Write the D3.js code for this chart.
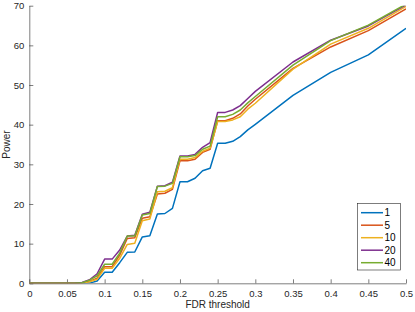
<!DOCTYPE html>
<html>
<head>
<meta charset="utf-8">
<script src="https://d3js.org/d3.v7.min.js"></script>
<style>
  body { margin: 0; background: #fff; }
  text { font-family: "Liberation Sans", Arial, sans-serif; }
</style>
</head>
<body>
<script>
// FDR thresholds (x values)
var fdr = [0, 0.01, 0.02, 0.03, 0.04, 0.05, 0.06, 0.07, 0.08, 0.09,
  0.1, 0.11, 0.12, 0.13, 0.14, 0.15, 0.16, 0.17, 0.18, 0.19,
  0.2, 0.21, 0.22, 0.23, 0.24, 0.25, 0.26, 0.27, 0.28, 0.29,
  0.3, 0.35, 0.4, 0.45, 0.5];

var power1 = [0, 0, 0, 0, 0, 0, 0, 0, 0.05, 0.6,
  2.8, 2.8, 5.2, 7.8, 7.9, 11.7, 12.0, 17.5, 17.6, 18.9,
  25.6, 25.6, 26.5, 28.4, 29.0, 35.3, 35.3, 35.8, 37.0, 38.7,
  40.1, 47.4, 53.2, 57.6, 64.3];
var power5 = [0, 0, 0, 0, 0, 0, 0, 0.1, 0.5, 1.3,
  4.2, 4.2, 7.1, 11.3, 11.5, 16.4, 16.8, 22.5, 22.7, 23.7,
  30.9, 30.9, 31.3, 33.0, 33.8, 41.0, 41.0, 41.6, 42.7, 44.7,
  46.4, 54.2, 59.6, 63.7, 69.2];
var power10 = [0, 0, 0, 0, 0, 0, 0, 0.1, 0.4, 1.0,
  3.8, 3.8, 6.3, 9.8, 10.1, 15.8, 16.2, 23.1, 23.2, 24.1,
  31.3, 31.3, 31.7, 33.3, 34.1, 40.8, 40.8, 41.2, 42.0, 43.9,
  45.4, 54.0, 60.3, 64.3, 69.8];
var power20 = [0, 0, 0, 0, 0, 0, 0, 0.2, 0.9, 2.4,
  6.1, 6.1, 8.4, 11.9, 12.1, 17.4, 17.9, 24.5, 24.6, 25.5,
  32.1, 32.1, 32.5, 34.3, 35.5, 43.1, 43.1, 43.7, 44.8, 46.6,
  48.4, 55.8, 61.3, 64.9, 70.2];
var power40 = [0, 0, 0, 0, 0, 0, 0, 0.15, 0.8, 1.9,
  4.8, 4.8, 7.6, 11.9, 11.9, 17.2, 17.6, 24.4, 24.5, 25.2,
  31.9, 31.9, 32.2, 33.8, 34.6, 42.0, 42.0, 42.6, 43.7, 45.5,
  47.1, 55.0, 61.2, 65.1, 70.4];

var seriesNames = ["1", "5", "10", "20", "40"];
var seriesValues = [power1, power5, power10, power20, power40];
var colors = ["#0072BD", "#D95319", "#EDB120", "#7E2F8E", "#77AC30"];

var xTicks = [0, 0.05, 0.1, 0.15, 0.2, 0.25, 0.3, 0.35, 0.4, 0.45, 0.5];
var yTicks = [0, 10, 20, 30, 40, 50, 60, 70];

var W = 415, H = 312;
var margin = {top: 5.7, right: 9, bottom: 28.7, left: 29.3};
var width = W - margin.left - margin.right,
    height = H - margin.top - margin.bottom;

var x = d3.scaleLinear().domain([0, 0.5]).range([0, width]);
var y = d3.scaleLinear().domain([0, 70]).range([height, 0]);

var svg = d3.select("body").append("svg")
    .attr("width", W)
    .attr("height", H);

var g = svg.append("g")
    .attr("transform", "translate(" + margin.left + "," + margin.top + ")");

g.append("clipPath").attr("id", "clip")
  .append("rect").attr("x", 0).attr("y", 0).attr("width", width).attr("height", height);

// axes, ticks inward like matlab
var xAxis = d3.axisBottom(x).tickValues(xTicks).tickSizeInner(-4).tickSizeOuter(0).tickPadding(7)
    .tickFormat(function(d) { return d3.format("")(d); });
var yAxis = d3.axisLeft(y).tickValues(yTicks).tickSizeInner(-4).tickSizeOuter(0).tickPadding(5);

var gx = g.append("g").attr("transform", "translate(0," + height + ")").call(xAxis);
var gy = g.append("g").call(yAxis);

[gx, gy].forEach(function(a) {
  a.select(".domain").attr("stroke", "#262626").attr("stroke-width", 0.6);
  a.selectAll(".tick line").attr("stroke", "#262626").attr("stroke-width", 0.6);
  a.selectAll(".tick text").attr("fill", "#262626").style("font-size", "9.5px")
    .style("font-family", "'Liberation Sans', Arial, sans-serif");
});

// lines
var line = d3.line()
    .x(function(d, i) { return x(fdr[i]); })
    .y(function(d) { return y(d); });

g.append("g").attr("clip-path", "url(#clip)")
  .selectAll("path.series")
  .data(seriesValues)
  .enter().append("path")
    .attr("class", "series")
    .attr("fill", "none")
    .attr("stroke", function(d, i) { return colors[i]; })
    .attr("stroke-width", 1.5)
    .attr("stroke-linejoin", "round")
    .attr("d", line);

// axis labels
svg.append("text")
    .attr("x", margin.left + width / 2)
    .attr("y", 308)
    .attr("text-anchor", "middle")
    .attr("fill", "#262626")
    .style("font-size", "10px")
    .text("FDR threshold");

svg.append("text")
    .attr("transform", "translate(10," + (margin.top + height / 2) + ") rotate(-90)")
    .attr("text-anchor", "middle")
    .attr("fill", "#262626")
    .style("font-size", "10px")
    .text("Power");

// legend
var lg = svg.append("g").attr("transform", "translate(357.5,203.5)");
lg.append("rect")
    .attr("width", 43).attr("height", 66.5)
    .attr("fill", "#fff")
    .attr("stroke", "#262626")
    .attr("stroke-width", 0.6);

var items = lg.selectAll("g.item")
  .data(seriesNames)
  .enter().append("g")
    .attr("class", "item")
    .attr("transform", function(d, i) { return "translate(0," + (9.2 + i * 12.5) + ")"; });

items.append("line")
    .attr("x1", 3.5).attr("x2", 25.5)
    .attr("stroke", function(d, i) { return colors[i]; })
    .attr("stroke-width", 1.5);

items.append("text")
    .attr("x", 27)
    .attr("dy", "0.35em")
    .attr("fill", "#000")
    .style("font-size", "10px")
    .text(function(d) { return d; });
</script>
</body>
</html>
